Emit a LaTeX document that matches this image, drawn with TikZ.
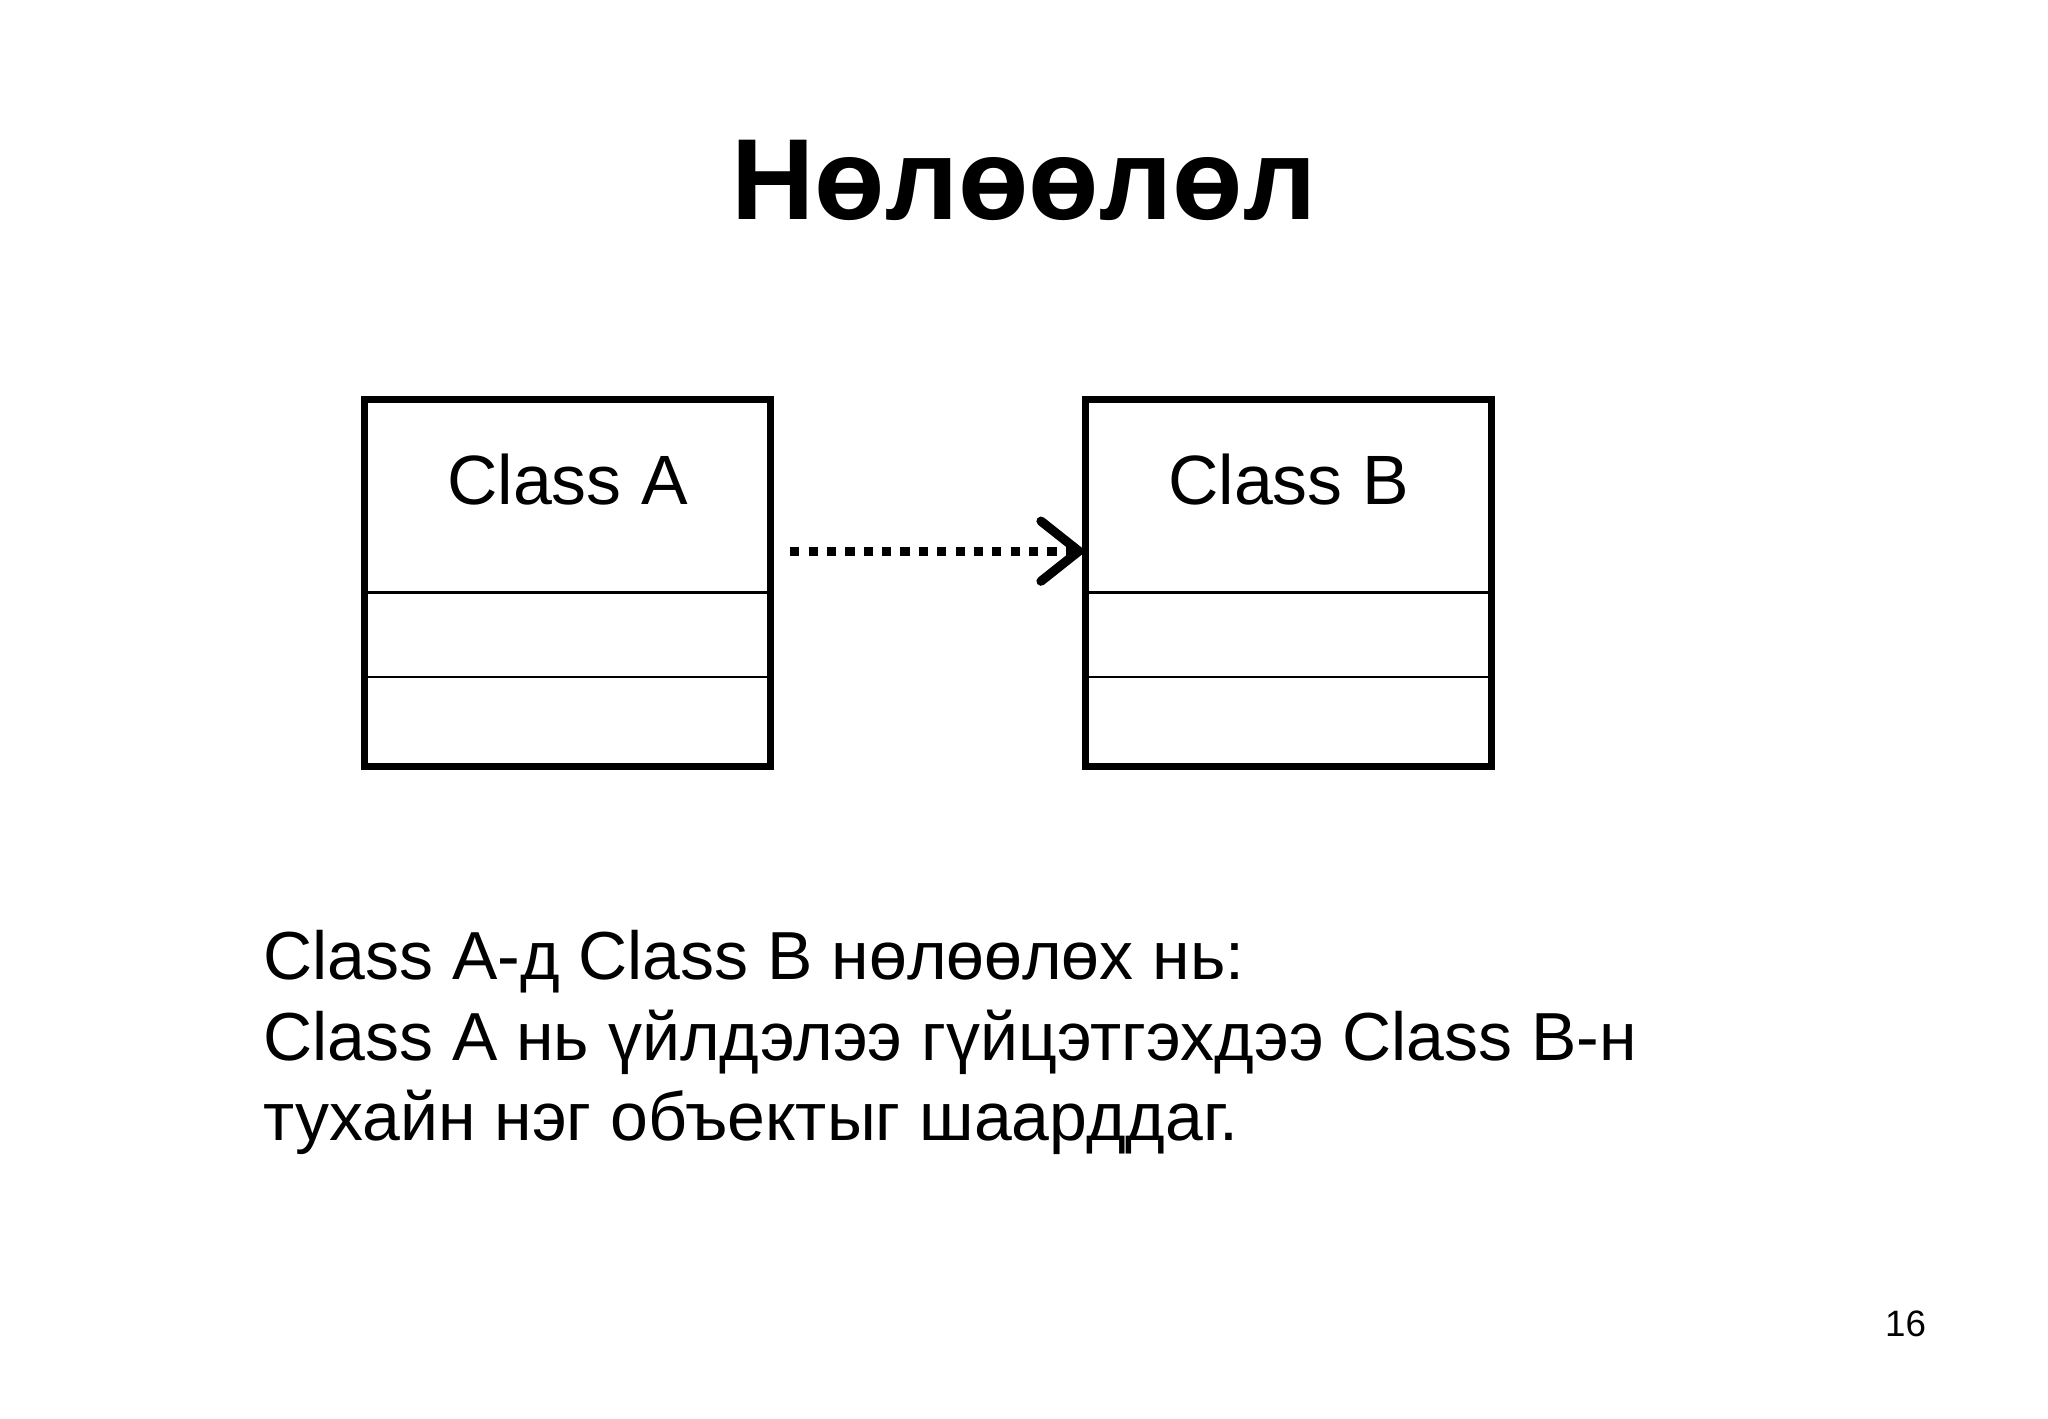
\documentclass[tikz,border=0pt]{standalone}
\usepackage{fontspec}
\setmainfont{Liberation Sans}
\begin{document}
\begin{tikzpicture}[x=0.01cm,y=-0.01cm,
  cls/.style={draw,line width=1.5pt,minimum width=3.11cm,minimum height=2.81cm,inner sep=0pt},
  sep/.style={line width=0.6pt},
  txt/.style={font=\fontsize{15.2}{21}\selectfont,anchor=base},
  body/.style={font=\fontsize{14.8}{17}\selectfont,anchor=base west,inner sep=0pt}]
\useasboundingbox (0,0) rectangle (1568,1086);
\node[font=\fontsize{25.1}{30}\selectfont\bfseries,anchor=base] (title) at (784,168) {Нөлөөлөл};
\node[cls] (A) at (434.5,446.5) {};
\node[cls] (B) at (986.5,446.5) {};
\node[txt] (ta) at (434.5,386) {Class A};
\node[txt] (tb) at (986.5,386) {Class B};
\foreach \n in {A,B}{
  \draw[sep] ([yshift=-1.5cm]\n.north west) -- ([yshift=-1.5cm]\n.north east);
  \draw[sep] ([yshift=-2.15cm]\n.north west) -- ([yshift=-2.15cm]\n.north east);
}
\coordinate (s) at (605,422);
\coordinate (e) at (826,422);
\draw[line width=2pt,dash pattern=on 2pt off 2pt] (s) -- (e);
\draw[line width=2pt,line cap=round,line join=miter] (797,399) -- (e) -- (797,445);
\node[body] (l1) at (201,750) {Class A-д Class B нөлөөлөх нь:};
\node[body] (l2) at (201,812) {Class A нь үйлдэлээ гүйцэтгэхдээ Class B-н};
\node[body] (l3) at (201,873) {тухайн нэг объектыг шаарддаг.};
\node[anchor=base,font=\fontsize{8}{10}\selectfont] (pg) at (1459,1023) {16};
\end{tikzpicture}
\end{document}
